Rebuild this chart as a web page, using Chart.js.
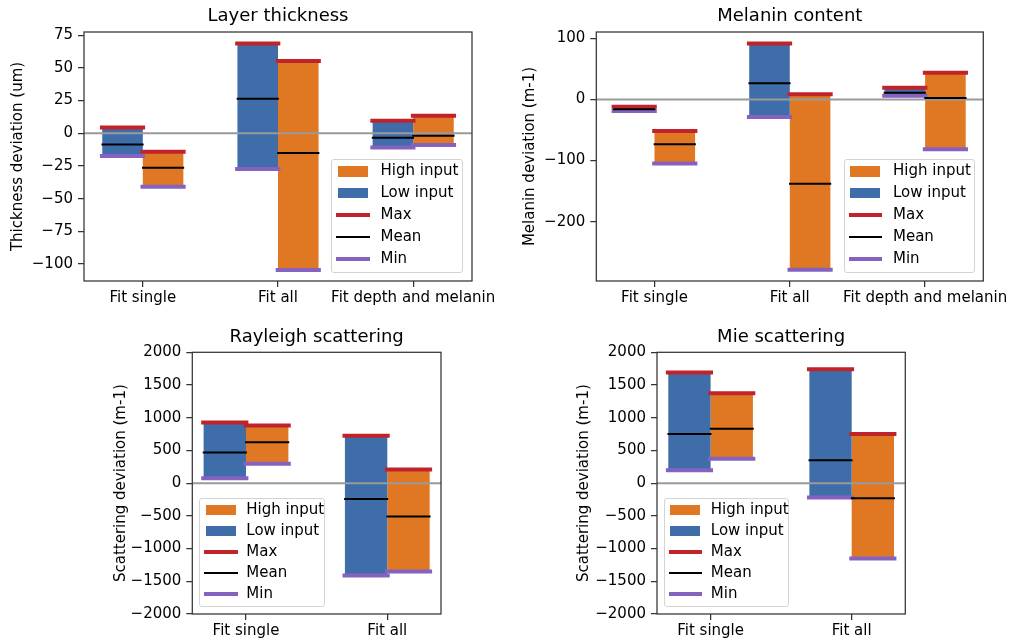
<!DOCTYPE html>
<html>
<head>
<meta charset="utf-8">
<script src="https://cdn.jsdelivr.net/npm/chart.js@4.4.0/dist/chart.umd.min.js"></script>
<style>
  html, body { margin: 0; padding: 0; background: #fff; overflow: hidden; width: 1011px; height: 642px; }
  canvas { position: absolute; }
  .legend { position: absolute; box-sizing: border-box; border: 1px solid #d4d4d4; border-radius: 3px;
            background: rgba(255,255,255,0.8); font: 15px "DejaVu Sans"; color: #000; }
  .legend .row { position: absolute; left: 0; right: 0; white-space: nowrap; }
  .legend .mark { position: absolute; }
  .legend .txt { position: absolute; }
</style>
</head>
<body>
<canvas id="thick"></canvas>
<canvas id="melanin"></canvas>
<canvas id="rayleigh"></canvas>
<canvas id="mie"></canvas>
<script>
// Four floating-bar panels: each bar spans min..max of the deviation, with
// max (red), mean (black) and min (purple) markers on top.

const topCategories = ['Fit single', 'Fit all', 'Fit depth and melanin'];
const bottomCategories = ['Fit single', 'Fit all'];

// Layer thickness (um)
const thickLowMax   = [4.4, 68.6, 9.5];
const thickLowMean  = [-8.6, 26.3, -3.5];
const thickLowMin   = [-17.5, -27.4, -10.9];
const thickHighMax  = [-14.2, 55.3, 13.3];
const thickHighMean = [-26.4, -15.2, -2.0];
const thickHighMin  = [-41.0, -104.6, -9.1];
const thickTicks    = [75, 50, 25, 0, -25, -50, -75, -100];

// Melanin content (m-1)
const melLowMax   = [-12, 91.5, 19.1];
const melLowMean  = [-16, 26.3, 11];
const melLowMin   = [-19, -28.8, 6.1];
const melHighMax  = [-51.7, 8.3, 43.7];
const melHighMean = [-73.5, -138, 2.3];
const melHighMin  = [-104.6, -278.6, -81.6];
const melTicks    = [100, 0, -100, -200];

// Rayleigh scattering (m-1)
const rayLowMax   = [926, 723];
const rayLowMean  = [468, -244];
const rayLowMin   = [76, -1410];
const rayHighMax  = [880, 209];
const rayHighMean = [626, -509];
const rayHighMin  = [295, -1349];

// Mie scattering (m-1)
const mieLowMax   = [1690, 1740];
const mieLowMean  = [753, 351];
const mieLowMin   = [198, -219];
const mieHighMax  = [1374, 753];
const mieHighMean = [830, -229];
const mieHighMin  = [372, -1150];

const scatterTicks = [2000, 1500, 1000, 500, 0, -500, -1000, -1500, -2000];

const LOW_COLOR = '#3f6daa';
const HIGH_COLOR = '#e07823';
const MAX_COLOR = '#c0242a';
const MEAN_COLOR = '#000000';
const MIN_COLOR = '#8662c0';
const ZERO_COLOR = '#9a9a9a';

const FONT = 'DejaVu Sans';
const TITLE_SIZE = 18, LABEL_SIZE = 15;
const CAT_PCT = 0.6;               // two bars of 0.3 units side by side
const HALF = CAT_PCT / 4;          // half a bar width, in category units

Chart.defaults.font.family = FONT;
Chart.defaults.color = '#000';

const fmt = v => (v < 0 ? '\u2212' + Math.abs(v) : String(v));

const framePlugin = {
  id: 'frame',
  afterDraw(chart) {
    const { ctx, chartArea: a } = chart;
    ctx.save();
    ctx.strokeStyle = '#333';
    ctx.lineWidth = 1.25;
    ctx.strokeRect(a.left, a.top, a.right - a.left, a.bottom - a.top);
    ctx.restore();
  }
};

// horizontal marker segments over each bar, broken by null points
function segments(vals, side, ext) {
  const pts = [];
  vals.forEach((v, i) => {
    const c = i + side * HALF;
    pts.push({ x: c - HALF - ext, y: v }, { x: c + HALF + ext, y: v }, { x: c, y: null });
  });
  return pts;
}

function lineSet(label, vals, side, color, width, ext, order) {
  return {
    type: 'line', label, data: segments(vals, side, ext), borderColor: color,
    borderWidth: width, pointRadius: 0, spanGaps: false, order, tension: 0
  };
}

function makeChart(id, box, cats, s, yTicks, yMin, yMax, title, yLabel) {
  const titleLH = TITLE_SIZE * 1.2, labelLH = LABEL_SIZE * 1.2;
  const xAxisH = 34;
  const left = Math.round(box.labelX - labelLH / 2 - 2);
  const top = Math.round(box.titleY - titleLH / 2 - 4);
  const right = Math.round(box.R + box.padRight);
  const bottom = Math.round(box.B + xAxisH);
  const canvas = document.getElementById(id);
  canvas.width = right - left;
  canvas.height = bottom - top;
  canvas.style.left = left + 'px';
  canvas.style.top = top + 'px';
  const titlePadTop = box.titleY - top - titleLH / 2;
  const titlePadBottom = box.T - top - titlePadTop - titleLH;
  const xMin = -0.3 - box.margin, xMax = cats.length - 0.7 + box.margin;

  const bar = (label, lo, hi, color) => ({
    type: 'bar', label, order: 3, backgroundColor: color, borderWidth: 0,
    categoryPercentage: CAT_PCT, barPercentage: 1.0,
    data: lo.map((v, i) => ({ x: i, y: [lo[i], hi[i]] }))
  });

  new Chart(canvas, {
    type: 'bar',
    data: {
      datasets: [
        lineSet('Mean', s.lowMean, -1, MEAN_COLOR, 2, 0.006, 0),
        lineSet('Mean', s.highMean, 1, MEAN_COLOR, 2, 0.006, 0),
        lineSet('Max', s.lowMax, -1, MAX_COLOR, 4, 0.017, 1),
        lineSet('Max', s.highMax, 1, MAX_COLOR, 4, 0.017, 1),
        lineSet('Min', s.lowMin, -1, MIN_COLOR, 4, 0.017, 1),
        lineSet('Min', s.highMin, 1, MIN_COLOR, 4, 0.017, 1),
        { type: 'line', label: 'zero', data: [{ x: xMin, y: 0 }, { x: xMax, y: 0 }],
          borderColor: ZERO_COLOR, borderWidth: 2, pointRadius: 0, order: 2 },
        bar('Low input', s.lowMin, s.lowMax, LOW_COLOR),
        bar('High input', s.highMin, s.highMax, HIGH_COLOR)
      ]
    },
    options: {
      responsive: false,
      animation: false,
      events: [],
      layout: { padding: { left: 0, top: 0, bottom: 0, right: right - box.R } },
      plugins: {
        legend: { display: false },
        tooltip: { enabled: false },
        title: {
          display: true, text: title, fullSize: false, color: '#000',
          font: { family: FONT, size: TITLE_SIZE, weight: 'normal' },
          padding: { top: titlePadTop, bottom: titlePadBottom }
        }
      },
      scales: {
        x: {
          type: 'linear', min: xMin, max: xMax, offset: false,
          afterBuildTicks: sc => { sc.ticks = cats.map((c, i) => ({ value: i })); },
          afterFit: sc => { sc.height = xAxisH; },
          ticks: { callback: v => cats[v], color: '#000', font: { size: LABEL_SIZE }, padding: 2.5,
                   maxRotation: 0, autoSkip: false },
          grid: { display: true, offset: false, drawOnChartArea: false, drawTicks: true,
                  tickLength: 6, color: '#333', lineWidth: 1.25 },
          border: { display: false }
        },
        y: {
          min: yMin, max: yMax,
          afterBuildTicks: sc => { sc.ticks = yTicks.map(v => ({ value: v })); },
          afterFit: sc => { sc.width = box.L - left; },
          ticks: { callback: v => fmt(v), color: '#000', font: { size: LABEL_SIZE }, padding: 5 },
          grid: { display: true, drawOnChartArea: false, drawTicks: true,
                  tickLength: 6, color: '#333', lineWidth: 1.25 },
          border: { display: false },
          title: { display: true, text: yLabel, color: '#000', font: { size: LABEL_SIZE },
                   padding: { top: box.labelX - left - labelLH / 2, bottom: 0 } }
        }
      }
    },
    plugins: [framePlugin]
  });
}

function makeLegend(g) {
  const items = [
    { text: 'High input', kind: 'patch', color: HIGH_COLOR },
    { text: 'Low input', kind: 'patch', color: LOW_COLOR },
    { text: 'Max', kind: 'line', color: MAX_COLOR, h: 4 },
    { text: 'Mean', kind: 'line', color: MEAN_COLOR, h: 2 },
    { text: 'Min', kind: 'line', color: MIN_COLOR, h: 4 }
  ];
  const el = document.createElement('div');
  el.className = 'legend';
  Object.assign(el.style, { left: g.left + 'px', top: g.top + 'px', width: g.w + 'px', height: g.h + 'px' });
  items.forEach((it, i) => {
    const row = document.createElement('div');
    row.className = 'row';
    const cy = g.first + i * g.step - 1;
    Object.assign(row.style, { top: (cy - g.step / 2) + 'px', height: g.step + 'px', lineHeight: g.step + 'px' });
    const m = document.createElement('div');
    m.className = 'mark';
    if (it.kind === 'patch') {
      Object.assign(m.style, { left: g.patchX + 'px', width: '30px', height: '10.5px',
                               top: (g.step / 2 - 5.25) + 'px', background: it.color });
    } else {
      Object.assign(m.style, { left: (g.patchX - 1.5) + 'px', width: '33.5px', height: it.h + 'px',
                               top: (g.step / 2 - it.h / 2) + 'px', background: it.color });
    }
    const t = document.createElement('span');
    t.className = 'txt';
    t.textContent = it.text;
    t.style.left = g.textX + 'px';
    row.appendChild(m);
    row.appendChild(t);
    el.appendChild(row);
  });
  document.body.appendChild(el);
}

makeChart('thick', { L: 84, T: 32, R: 472, B: 281, labelX: 18, titleY: 16.7, padRight: 34, margin: 0.135 },
  topCategories,
  { lowMax: thickLowMax, lowMean: thickLowMean, lowMin: thickLowMin,
    highMax: thickHighMax, highMean: thickHighMean, highMin: thickHighMin },
  thickTicks, -113, 77.4, 'Layer thickness', 'Thickness deviation (um)');

makeChart('melanin', { L: 596.3, T: 32, R: 983.3, B: 281, labelX: 530, titleY: 16.7, padRight: 36, margin: 0.13 },
  topCategories,
  { lowMax: melLowMax, lowMean: melLowMean, lowMin: melLowMin,
    highMax: melHighMax, highMean: melHighMean, highMin: melHighMin },
  melTicks, -297, 110.3, 'Melanin content', 'Melanin deviation (m-1)');

makeChart('rayleigh', { L: 192.3, T: 352.3, R: 441, B: 614.3, labelX: 121, titleY: 337.8, padRight: 20, margin: 0.08 },
  bottomCategories,
  { lowMax: rayLowMax, lowMean: rayLowMean, lowMin: rayLowMin,
    highMax: rayHighMax, highMean: rayHighMean, highMin: rayHighMin },
  scatterTicks, -2000, 2000, 'Rayleigh scattering', 'Scattering deviation (m-1)');

makeChart('mie', { L: 657, T: 352.3, R: 905.3, B: 614.3, labelX: 584, titleY: 337.8, padRight: 20, margin: 0.08 },
  bottomCategories,
  { lowMax: mieLowMax, lowMean: mieLowMean, lowMin: mieLowMin,
    highMax: mieHighMax, highMean: mieHighMean, highMin: mieHighMin },
  scatterTicks, -2000, 2000, 'Mie scattering', 'Scattering deviation (m-1)');

makeLegend({ left: 331, top: 159.3, w: 132.3, h: 114, first: 12, step: 21.9, patchX: 5.5, textX: 48.5 });
makeLegend({ left: 844, top: 159.3, w: 131, h: 114, first: 12, step: 21.9, patchX: 5, textX: 48 });
makeLegend({ left: 199.3, top: 498.3, w: 126, h: 109, first: 11.7, step: 21, patchX: 5.5, textX: 46 });
makeLegend({ left: 664.3, top: 498.3, w: 125, h: 109, first: 11.7, step: 21, patchX: 5, textX: 45.5 });
</script>
</body>
</html>
